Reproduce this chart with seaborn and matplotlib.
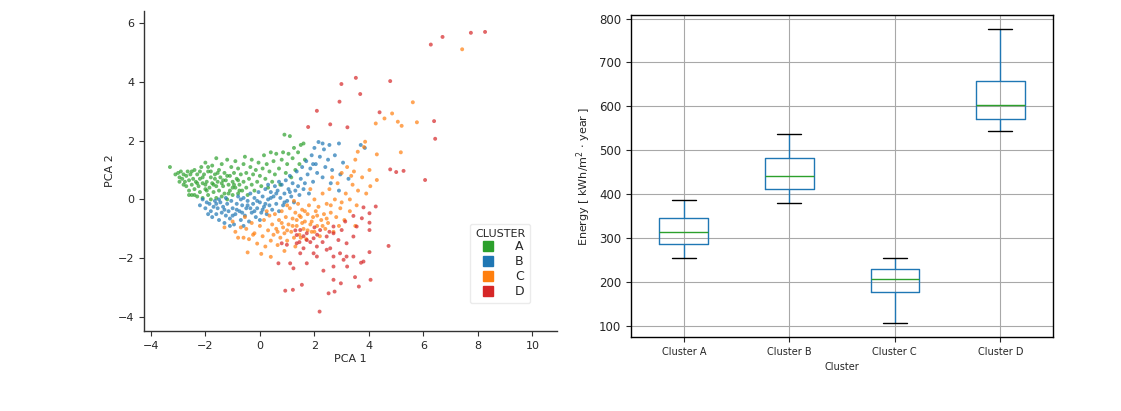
import pandas as pd
import numpy as np
import matplotlib
matplotlib.use("Agg")
import matplotlib.pyplot as plt
from matplotlib.lines import Line2D
import seaborn as sns

# PCA scatter, points (x, y) per cluster
pts_a = [(-3.3,1.1),(-3.1,0.85),(-3.0,0.9),(-2.95,0.75),(-2.9,0.95),(-2.85,0.7),(-2.8,0.85),(-2.75,0.6),
         (-2.7,0.8),(-2.7,0.45),(-2.65,0.95),(-2.6,0.65),(-2.6,0.3),(-2.55,0.85),(-2.5,0.5),(-2.5,0.15),
         (-2.45,0.7),(-2.4,1.0),(-2.4,0.35),(-2.35,0.6),(-2.3,0.1),(-2.3,0.85),(-2.25,0.45),(-2.2,0.7),
         (-2.2,0.25),(-2.15,1.1),(-2.1,0.55),(-2.1,0.05),(-2.05,0.85),(-2.0,0.35),(-2.0,1.25),(-1.95,0.6),
         (-1.9,0.15),(-1.9,0.95),(-1.85,0.4),(-1.8,0.75),(-1.8,0.0),(-1.75,1.15),(-1.7,0.5),(-1.7,0.25),
         (-1.65,0.85),(-1.6,0.05),(-1.6,1.4),(-1.55,0.6),(-1.5,0.3),(-1.5,1.0),(-1.45,0.75),(-1.4,0.1),
         (-1.4,1.2),(-1.35,0.45),(-1.3,0.9),(-1.3,0.2),(-1.25,0.65),(-1.2,1.35),(-1.2,0.0),(-1.15,0.5),
         (-1.1,0.8),(-1.1,0.3),(-1.05,1.1),(-1.0,0.6),(-1.0,0.15),(-0.95,0.9),(-0.9,0.4),(-0.9,1.3),
         (-0.85,0.7),(-0.8,0.2),(-0.8,1.05),(-0.75,0.5),(-0.7,0.85),(-0.65,0.3),(-0.6,1.2),(-0.6,0.6),
         (-0.55,1.45),(-0.5,0.4),(-0.5,0.9),(-0.45,0.15),(-0.4,0.7),(-0.35,1.1),(-0.3,0.5),(-0.3,1.35),
         (-0.25,0.85),(-0.2,0.3),(-0.15,1.0),(-0.1,0.6),(-0.05,1.25),(0.0,0.8),(0.05,0.45),(0.1,1.05),
         (0.15,1.5),(0.2,0.7),(0.25,1.2),(0.3,0.4),(0.35,0.95),(0.4,1.6),(0.45,0.6),(0.5,1.3),
         (0.55,0.85),(0.6,1.55),(0.7,1.05),(0.75,0.5),(0.8,1.35),(0.85,1.6),(0.9,2.2),(0.95,0.9),
         (1.0,1.2),(1.05,1.55),(1.1,2.15),(1.15,0.75),(1.2,1.4),(1.25,1.75),(1.3,1.0),(1.4,1.6),
         (1.5,1.85),(1.6,1.9),(1.45,1.2),(1.65,1.35),(-2.95,0.6),(-2.8,0.5),(-2.6,0.15),(-2.4,0.15),
         (-2.5,0.95),(-2.3,0.55),(-2.1,0.75),(-1.95,0.3),(-1.75,0.55),(-1.55,0.9),(-1.35,0.65),(-1.15,0.2),
         (-0.95,0.5),(-0.75,0.3),(-2.0,0.5),(-1.8,0.95),(-1.6,0.45),(-1.4,0.55),(-1.2,0.8),(-1.0,0.4),
         (-0.8,0.65),(-2.2,0.95),(-1.9,1.1),(-1.65,0.7)]

pts_b = [(-2.0,-0.3),(-1.9,-0.5),(-1.85,-0.15),(-1.8,-0.4),(-1.75,-0.6),(-1.7,-0.25),(-1.65,-0.05),(-1.6,-0.5),
         (-1.55,-0.3),(-1.5,-0.7),(-1.45,-0.1),(-1.4,-0.45),(-1.35,-0.25),(-1.3,-0.8),(-1.25,-0.55),(-1.2,-0.15),
         (-1.15,-0.4),(-1.1,-0.65),(-1.05,-0.05),(-1.0,-0.3),(-0.95,-0.85),(-0.9,-0.5),(-0.85,-0.15),(-0.8,0.1),
         (-0.75,-0.4),(-0.7,-0.7),(-0.65,-0.2),(-0.6,0.05),(-0.55,-0.55),(-0.5,-0.3),(-0.45,-0.05),(-0.4,-0.75),
         (-0.35,0.2),(-0.3,-0.45),(-0.25,-0.15),(-0.2,0.05),(-0.15,-0.6),(-0.1,-0.3),(-0.05,0.25),(0.0,-0.1),
         (0.05,-0.45),(0.1,0.1),(0.15,-0.25),(0.2,0.35),(0.25,-0.5),(0.3,0.0),(0.35,-0.2),(0.4,0.25),
         (0.45,-0.35),(0.5,0.1),(0.55,0.45),(0.6,-0.15),(0.65,0.3),(0.7,-0.4),(0.75,0.05),(0.8,0.5),
         (0.85,-0.2),(0.9,0.2),(0.95,0.65),(1.0,-0.05),(1.05,0.35),(1.1,0.8),(1.15,0.1),(1.2,0.55),
         (1.25,-0.1),(1.3,0.3),(1.35,0.95),(1.4,0.45),(1.45,0.15),(1.5,0.7),(1.55,1.1),(1.6,0.35),
         (1.65,0.55),(1.7,1.3),(1.75,0.85),(1.8,0.2),(1.85,1.05),(1.9,1.5),(1.95,0.6),(2.0,1.75),
         (2.05,1.2),(2.1,0.9),(2.15,1.95),(2.2,1.45),(2.3,0.75),(2.35,1.7),(2.4,1.1),(2.5,1.35),
         (2.6,0.55),(2.65,1.0),(2.75,1.5),(2.9,1.9),(2.95,0.85),(3.05,1.25),(3.25,0.7),(2.9,0.3),
         (-2.2,-0.2),(-2.1,0.0),(-1.95,-0.1),(-1.5,0.0),(-1.25,0.05),(-0.85,-0.35),(-0.65,-0.45),(-0.35,-0.3),
         (-0.1,-0.05),(0.2,-0.15),(-1.1,-0.9),(-0.6,-0.9),(0.0,-0.7),(-1.6,-0.15),(-1.3,-0.35),(-1.0,-0.55),
         (-0.7,0.0),(-0.45,-0.2),(-0.2,-0.4),(0.1,-0.35),(0.4,0.05),(0.6,0.2),(0.9,-0.1),(1.1,0.25),
         (0.7,0.6),(0.3,0.5),(2.3,1.9),(1.95,1.2),(2.55,1.85),(3.7,1.85),(3.85,1.75)]

pts_c = [(-1.3,-0.95),(-1.0,-0.75),(-0.9,-1.1),(-0.7,-0.95),(-0.6,-1.3),(-0.5,-1.0),(-0.45,-1.8),(-0.4,-1.35),
         (-0.3,-0.8),(-0.2,-1.15),(-0.1,-1.5),(0.0,-0.9),(0.05,-1.85),(0.1,-1.25),(0.15,-0.7),(0.2,-1.6),
         (0.3,-1.05),(0.35,-0.55),(0.4,-1.4),(0.45,-0.85),(0.5,-1.2),(0.55,-0.5),(0.6,-1.0),(0.65,-1.55),
         (0.7,-0.7),(0.75,-1.3),(0.8,-0.4),(0.85,-0.95),(0.9,-1.15),(0.95,-0.6),(1.0,-1.4),(1.05,-0.85),
         (1.1,-0.3),(1.15,-1.1),(1.2,-0.65),(1.25,-1.3),(1.3,-0.45),(1.35,-0.9),(1.4,-0.15),(1.45,-1.2),
         (1.5,-0.6),(1.55,-0.35),(1.6,-1.0),(1.65,-0.75),(1.7,-1.35),(1.75,-0.5),(1.8,-0.2),(1.85,-0.85),
         (1.9,-1.1),(1.95,-0.6),(2.0,0.0),(2.05,-0.4),(2.1,-0.9),(2.15,-0.25),(2.2,-1.25),(2.25,-0.7),
         (2.3,0.2),(2.35,-0.5),(2.4,-1.0),(2.45,-0.15),(2.5,-0.8),(2.55,0.35),(2.6,-0.45),(2.7,-1.1),
         (2.75,0.0),(2.8,-0.6),(2.85,0.55),(2.95,-0.3),(3.0,0.9),(3.1,-0.7),(3.15,0.2),(3.2,1.1),
         (3.3,-0.4),(3.4,0.5),(3.45,0.95),(3.55,-0.2),(3.6,0.3),(3.75,0.75),(3.9,0.2),(4.05,0.45),
         (3.5,1.35),(3.3,0.0),(2.65,0.75),(1.85,0.35),(1.3,-1.6),(0.9,-1.75),(0.4,-1.95),(-0.25,-1.2),
         (-0.8,-1.3),(1.0,-0.2),(1.45,-0.55),(1.2,-0.9),(1.65,-0.4),(1.9,-0.75),(2.1,-0.55),(1.55,-0.8),
         (1.35,-0.7),(0.8,-0.8),(1.75,-1.05),(2.3,-0.9),(2.6,-0.2),(0.65,-1.1),(0.25,-0.4),(-0.55,-0.6),
         (1.0,-1.05),(1.5,-1.3),(2.0,-1.1),(2.45,-0.65),(1.25,-0.05),(3.0,-0.1),(2.9,-0.9),(3.5,-0.9),
         (3.35,0.8),(3.86,1.96),(3.82,1.78),(3.59,1.62),(5.17,1.6),(4.29,1.53),(4.02,1.0),(4.29,0.66),
         (4.57,2.75),(4.85,2.92),(4.25,2.58),(5.06,2.64),(5.2,2.5),(5.76,2.62),(5.61,3.3),(7.42,5.1)]

pts_d = [(4.02,-0.47),(4.25,-0.24),(3.8,-0.27),(4.02,-0.79),(4.02,-1.04),(4.02,-1.79),(4.06,-2.73),(3.71,-2.15),
         (3.63,-2.96),(3.49,-2.64),(3.2,-2.28),(2.7,-2.28),(2.97,-2.85),(2.74,-3.13),(2.52,-3.19),(2.7,-2.73),
         (2.33,-2.42),(1.54,-2.9),(1.21,-3.07),(0.93,-3.1),(0.68,-2.17),(1.23,-2.34),(1.11,-2.17),(1.72,-2.17),
         (1.97,-1.83),(2.45,-1.71),(2.58,-1.66),(2.94,-1.83),(3.18,-1.49),(3.43,-1.26),(3.55,-0.92),(3.13,-0.75),
         (2.7,-1.15),(2.45,-1.26),(1.97,-1.32),(1.72,-1.15),(1.48,-1.04),(0.99,-1.54),(0.8,-1.49),(1.35,-1.49),
         (1.48,-1.83),(2.09,-1.6),(2.21,-1.04),(2.7,-0.92),(2.88,-1.38),(3.18,-1.94),(3.43,-1.94),(3.8,-2.11),
         (3.07,-2.05),(2.09,-1.94),(1.72,-1.38),(1.6,-1.66),(2.7,-1.94),(1.35,-1.21),(3.0,-1.04),(3.43,-0.56),
         (3.74,-0.64),(1.3,-1.05),(1.6,-1.25),(1.85,-1.45),(2.1,-1.2),(2.3,-1.45),(1.45,-1.45),(2.0,-0.95),
         (2.55,-1.1),(8.26,5.69),(7.74,5.66),(6.7,5.52),(6.27,5.26),(3.52,4.13),(4.78,4.02),(2.99,3.92),
         (3.68,3.58),(2.92,3.32),(2.09,3.01),(4.39,2.96),(6.39,2.66),(6.43,2.06),(2.58,2.55),(3.21,2.45),
         (1.77,2.46),(6.06,0.66),(4.78,1.02),(5.0,0.93),(5.27,0.97),(4.72,-1.58),(2.19,-3.81)]

cluster_names = ["A", "B", "C", "D"]
cluster_colors = ["#2ca02c", "#1f77b4", "#ff7f0e", "#d62728"]

# energy per cluster: whisker low, Q1, median, Q3, whisker high
box_labels = ["Cluster A", "Cluster B", "Cluster C", "Cluster D"]
energy_a = [256, 286, 315, 347, 388]
energy_b = [380, 413, 442, 483, 536]
energy_c = [108, 177, 206, 229, 256]
energy_d = [545, 571, 604, 657, 775]

rows = []
for name, pts in zip(cluster_names, [pts_a, pts_b, pts_c, pts_d]):
    for x, y in pts:
        rows.append((x, y, name))
df = pd.DataFrame(rows, columns=["PCA 1", "PCA 2", "CLUSTER"])

box_rows = []
for lab, vals in zip(box_labels, [energy_a, energy_b, energy_c, energy_d]):
    for v in vals:
        box_rows.append((lab, v))
df_box = pd.DataFrame(box_rows, columns=["Cluster", "Energy"])

sns.set_style("white")
plt.rcParams['font.family'] = ['DejaVu Sans']

fig = plt.figure(figsize=(11.21, 4.11), dpi=100)
ax1 = fig.add_axes([0.1285, 0.1946, 0.3684, 0.7786])
ax2 = fig.add_axes([0.5629, 0.180, 0.3765, 0.7835])

# left: PCA scatter
sns.scatterplot(data=df, x="PCA 1", y="PCA 2", hue="CLUSTER", hue_order=cluster_names,
                palette=cluster_colors, s=8, alpha=0.7, edgecolor="none", legend=False, ax=ax1)
ax1.set_xlim(-4.25, 10.9)
ax1.set_ylim(-4.47, 6.4)
ax1.set_xticks([-4, -2, 0, 2, 4, 6, 8, 10])
ax1.set_yticks([-4, -2, 0, 2, 4, 6])
sns.despine(ax=ax1)
for s in ["left", "bottom"]:
    ax1.spines[s].set_color("#333333")
    ax1.spines[s].set_linewidth(1.0)
ax1.tick_params(axis="both", labelsize=8, length=3.5, width=0.8, color="#333333", bottom=True, left=True)
ax1.set_xlabel("PCA 1", fontsize=8, labelpad=2)
ax1.set_ylabel("PCA 2", fontsize=8, labelpad=2)
handles = [Line2D([], [], marker="s", ls="", color=c, markersize=7) for c in cluster_colors]
leg = ax1.legend(handles, cluster_names, title="CLUSTER", loc="lower right",
                 bbox_to_anchor=(0.95, 0.068), fontsize=9, title_fontsize=8,
                 handletextpad=1.2, labelspacing=0.15, borderpad=0.4, frameon=True)
leg.get_frame().set_edgecolor("#e6e6e6")

# right: energy boxplot
sns.boxplot(data=df_box, x="Cluster", y="Energy", ax=ax2, width=0.46, fill=False, whis=1.5,
            color="#1f77b4", linewidth=1.0,
            boxprops=dict(color="#1f77b4"), whiskerprops=dict(color="#1f77b4"),
            medianprops=dict(color="#2ca02c", linewidth=1.0),
            capprops=dict(color="black", linewidth=1.0))
ax2.set_ylim(75, 808)
ax2.set_yticks([100, 200, 300, 400, 500, 600, 700, 800])
ax2.grid(True, color="#a8a8a8", linewidth=0.8)
for s in ax2.spines.values():
    s.set_color("black")
    s.set_linewidth(1.0)
ax2.tick_params(axis="y", labelsize=8.5, length=3.5, left=True)
ax2.tick_params(axis="x", labelsize=7, length=3.5, bottom=True)
ax2.set_xlabel("Cluster", fontsize=7, labelpad=4)
ax2.set_ylabel("Energy [ kWh/m$^2$ $\\cdot$ year ]", fontsize=8)

fig.savefig("out.png", dpi=100)
